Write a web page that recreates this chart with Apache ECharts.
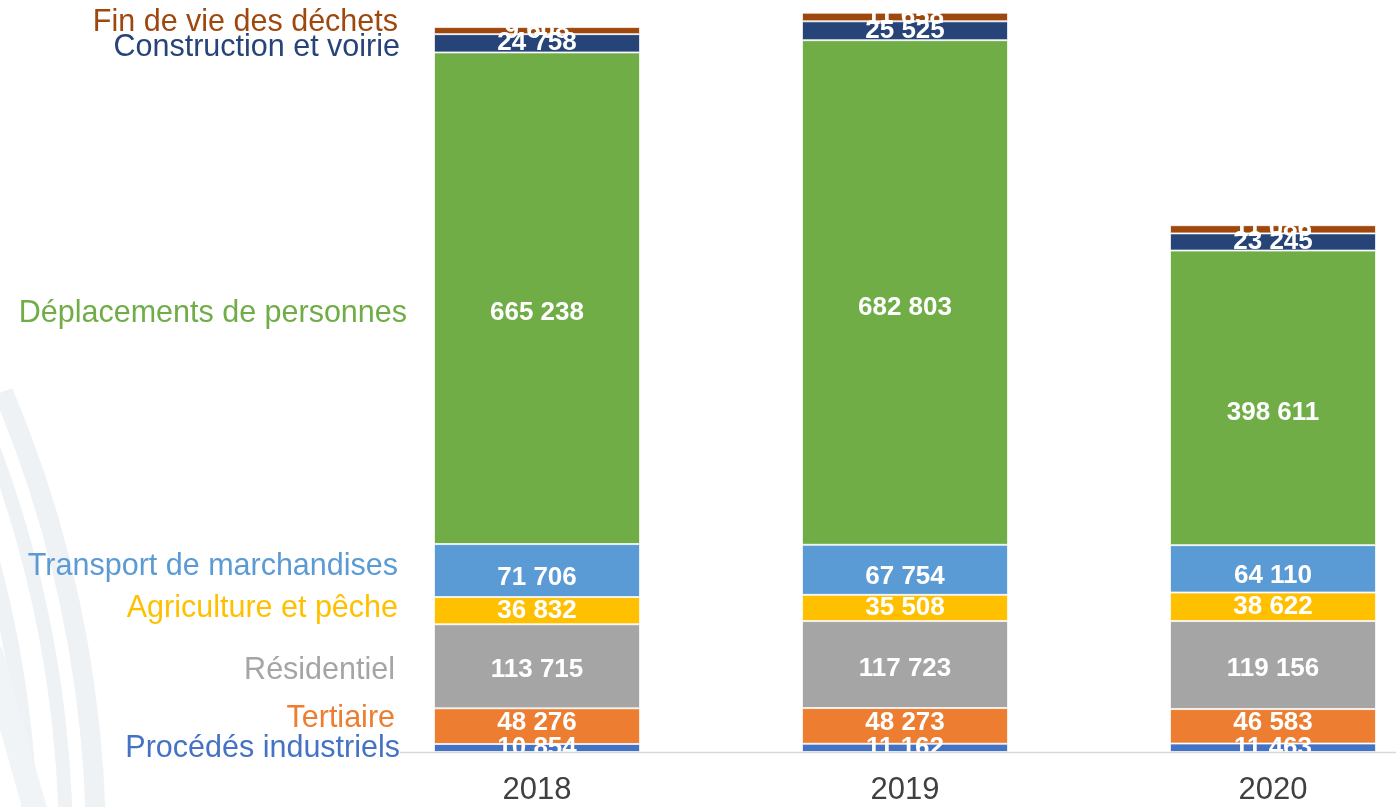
<!DOCTYPE html>
<html>
<head>
<meta charset="utf-8">
<script src="https://cdn.jsdelivr.net/npm/echarts@6/dist/echarts.min.js"></script>
<style>
  html, body { margin: 0; padding: 0; background: #ffffff; overflow: hidden; }
  /* the plot runs past the right edge of the page */
  #chart { width: 1460px; height: 807px; }
</style>
</head>
<body>
<div id="chart"></div>
<script>
// Years on the category axis
const years = ['2018', '2019', '2020'];

// Emissions by sector, stacked from bottom to top
const procedesIndustriels = [10854, 11162, 11463];
const tertiaire = [48276, 48273, 46583];
const residentiel = [113715, 117723, 119156];
const agriculturePeche = [36832, 35508, 38622];
const transportMarchandises = [71706, 67754, 64110];
const deplacementsPersonnes = [665238, 682803, 398611];
const constructionVoirie = [24758, 25525, 23245];
const finDeVieDechets = [9608, 11658, 11086];

const sectorNames = [
  'Procédés industriels',
  'Tertiaire',
  'Résidentiel',
  'Agriculture et pêche',
  'Transport de marchandises',
  'Déplacements de personnes',
  'Construction et voirie',
  'Fin de vie des déchets'
];
const sectorValues = [
  procedesIndustriels, tertiaire, residentiel, agriculturePeche,
  transportMarchandises, deplacementsPersonnes, constructionVoirie, finDeVieDechets
];
const sectorColors = [
  '#4472C4', '#ED7D31', '#A5A5A5', '#FFC000',
  '#5B9BD5', '#70AD47', '#264478', '#9E480E'
];
// Small nudges for the value labels and the side names
const valueLabelShift = [0, -3, 4, 0, 7, 15, 0, 0];
const nameLabelShift = [1, -8, 4, -2, -4, 15, 4, -8];
const nameLabelDistance = [137, 142, 142, 139, 139, 130, 137, 139];

const FONT = '"Liberation Sans", Arial, Helvetica, sans-serif';

function formatFr(v) {
  return String(v).replace(/\B(?=(\d{3})+(?!\d))/g, ' ');
}

const chart = echarts.init(document.getElementById('chart'), null, { renderer: 'canvas' });

// Cumulative base of each sector for the first year, used to place its name on the left
const series = [];
let base = 0;
sectorNames.forEach(function (name, i) {
  const values = sectorValues[i];
  const mid = base + values[0] / 2;
  base += values[0];
  series.push({
    name: name,
    type: 'bar',
    stack: 'total',
    barWidth: 206,
    data: values,
    itemStyle: { color: sectorColors[i], borderColor: 'rgba(255,255,255,0.7)', borderWidth: 1 },
    label: {
      show: true,
      position: 'inside',
      offset: [0, valueLabelShift[i]],
      color: '#ffffff',
      fontFamily: FONT,
      fontSize: 26,
      fontWeight: 'bold',
      formatter: function (p) { return formatFr(p.value); }
    },
    markPoint: {
      silent: true,
      symbol: 'rect',
      symbolSize: 0,
      data: [{ coord: [years[0], mid] }],
      label: {
        show: true,
        position: 'left',
        distance: nameLabelDistance[i],
        offset: [0, nameLabelShift[i]],
        color: sectorColors[i],
        fontFamily: FONT,
        fontSize: 30.5,
        formatter: name
      }
    }
  });
});

const option = {
  backgroundColor: '#ffffff',
  animation: false,
  grid: { left: 353, top: 13, width: 1104, bottom: 55 },
  xAxis: {
    type: 'category',
    data: years,
    axisLine: { show: false },
    axisTick: { show: false },
    axisLabel: {
      color: '#404040',
      fontFamily: FONT,
      fontSize: 31,
      margin: 23
    }
  },
  yAxis: {
    type: 'value',
    min: 0,
    max: 1000000,
    show: false,
    splitLine: { show: false }
  },
  graphic: [
    // faint decorative arcs in the lower-left corner
    { type: 'arc', z: -10, silent: true,
      shape: { cx: -1080, cy: 850, r: 1110, startAngle: -0.42, endAngle: 0.2 },
      style: { stroke: '#eef2f4', lineWidth: 16, fill: null } },
    { type: 'arc', z: -10, silent: true,
      shape: { cx: -1080, cy: 850, r: 1146, startAngle: -0.42, endAngle: 0.2 },
      style: { stroke: '#eef2f4', lineWidth: 14, fill: null } },
    { type: 'arc', z: -10, silent: true,
      shape: { cx: -1080, cy: 850, r: 1176, startAngle: -0.4, endAngle: 0.2 },
      style: { stroke: '#eff2f4', lineWidth: 20, fill: null } },
    { type: 'line', z: -10, silent: true,
      shape: { x1: -10, y1: 650, x2: 38, y2: 820 },
      style: { stroke: '#f1f4f6', lineWidth: 24 } },
    // baseline under the bars
    { type: 'line', z: 5, silent: true,
      shape: { x1: 400, y1: 752.5, x2: 1460, y2: 752.5 },
      style: { stroke: '#d9d9d9', lineWidth: 1.5 } }
  ],
  series: series
};

chart.setOption(option);
</script>
</body>
</html>
